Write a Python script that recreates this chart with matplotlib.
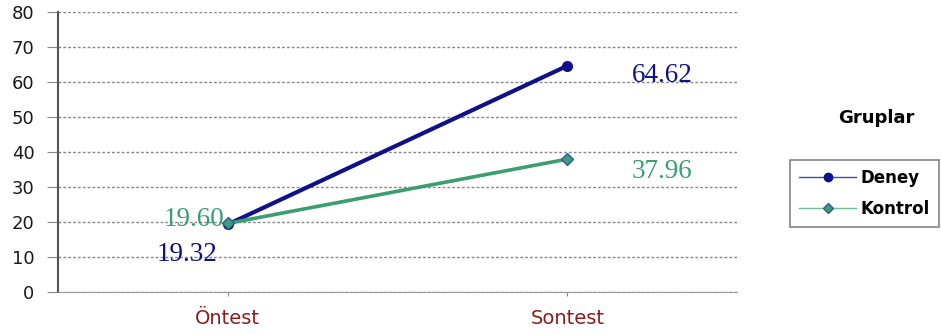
import matplotlib.pyplot as plt
from matplotlib.lines import Line2D

# test phases and group means
phases = ['Öntest', 'Sontest']
deney = [19.32, 64.62]
kontrol = [19.60, 37.96]
yticks = [0, 10, 20, 30, 40, 50, 60, 70, 80]

navy = '#10108a'
green = '#3a9e70'

fig = plt.figure(figsize=(9.41, 3.34), dpi=100)
ax = fig.add_axes([58 / 941, 42 / 334, (737 - 58) / 941, (292 - 12) / 334])

x = list(range(len(phases)))
ax.plot(x, deney, color=navy, lw=3, marker='o', ms=7, zorder=3)
ax.plot(x, kontrol, color=green, lw=2.6, marker='D', ms=6,
        markerfacecolor=green, markeredgecolor='#2d5aa0', zorder=4)

ax.set_xlim(-0.5, 1.5)
ax.set_ylim(0, 80)
ax.set_yticks(yticks)
ax.set_xticks(x)
ax.set_xticklabels(phases, color='#8b1c1c', fontsize=14, family='DejaVu Sans')
ax.tick_params(axis='x', length=3, color='#888888', pad=9)
ax.tick_params(axis='y', length=8, color='#888888', labelsize=13, pad=9)
for lab in ax.get_yticklabels():
    lab.set_family('DejaVu Sans')
    lab.set_color('#1a1a1a')
ax.yaxis.grid(True, linestyle=(0, (2, 1.5)), color='#888888', lw=1)
ax.set_axisbelow(True)
for s in ['top', 'right']:
    ax.spines[s].set_visible(False)
ax.spines['left'].set_color('#555555')
ax.spines['left'].set_linewidth(1.5)
ax.spines['bottom'].set_color('#999999')

# value labels
serif = 'Liberation Serif'
fs = 19.5
ax.text(-0.01, 20.6, '%.2f' % kontrol[0], color=green, fontsize=fs,
        family=serif, ha='right', va='center')
ax.text(-0.03, 10.6, '%.2f' % deney[0], color=navy, fontsize=fs,
        family=serif, ha='right', va='center')
ax.text(1.28, 62.0, '%.2f' % deney[1], color=navy, fontsize=fs,
        family=serif, ha='center', va='center')
ax.text(1.28, 34.3, '%.2f' % kontrol[1], color=green, fontsize=fs,
        family=serif, ha='center', va='center')

# legend on the right
fig.text(876 / 941, 1 - 118 / 334, 'Gruplar', fontsize=13, fontweight='bold',
         family='DejaVu Sans', ha='center', va='center')
handles = [Line2D([], [], color='#4848b0', lw=1, marker='o', ms=6,
                  markerfacecolor=navy, markeredgecolor=navy),
           Line2D([], [], color='#6cc09a', lw=1, marker='D', ms=5,
                  markerfacecolor=green, markeredgecolor='#2d5aa0')]
leg = fig.legend(handles, ['Deney', 'Kontrol'], loc='upper left',
                 bbox_to_anchor=(790 / 941, 1 - 160 / 334), frameon=True,
                 fancybox=False, handlelength=3.4, handletextpad=0.3,
                 borderpad=0.55, labelspacing=0.75, borderaxespad=0,
                 prop={'family': 'DejaVu Sans', 'weight': 'bold', 'size': 12})
leg.get_frame().set_edgecolor('#666666')
leg.get_frame().set_linewidth(1.2)

fig.savefig('out.png', dpi=100)
